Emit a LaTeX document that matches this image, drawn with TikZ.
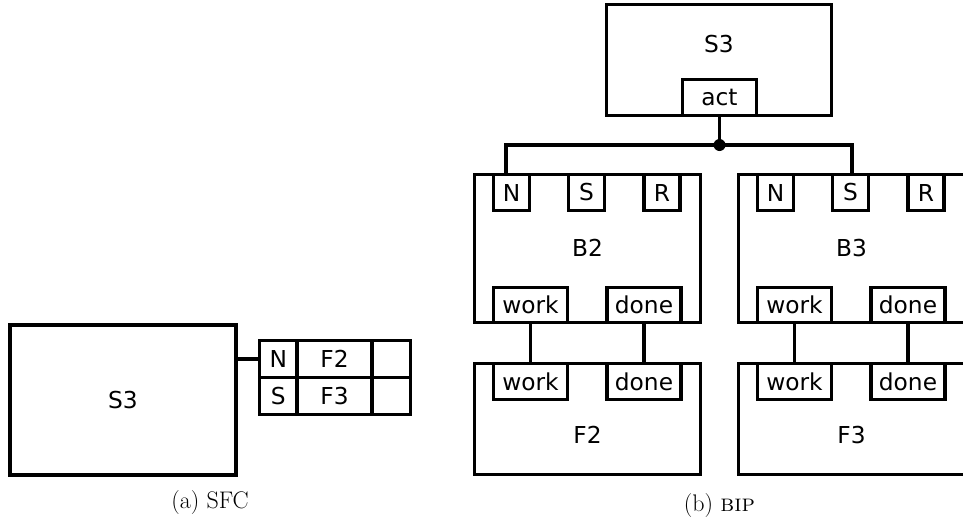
\documentclass[tikz,border=0pt]{standalone}
\usepackage{fontspec}
\newfontfamily\dvs{DejaVu Sans}
\begin{document}
\begin{tikzpicture}[x=1pt,y=-1pt,
  lw/.style={line width=3.5pt},
  box/.style={draw, lw, inner sep=0pt, fill=white, font=\dvs\fontsize{23.3}{27}\selectfont},
  txt/.style={inner sep=0pt, font=\dvs\fontsize{23.3}{27}\selectfont},
  captext/.style={inner sep=0pt, font=\fontsize{24}{28}\selectfont},
  wire/.style={draw, lw}]
\useasboundingbox (0,0) rectangle (963,523);
\clip (0,0) rectangle (963,523);

% ---------- (a) SFC ----------
\node[box, minimum width=226pt, minimum height=150pt] (sfcS3) at (123,400) {S3};
\node[box, minimum width=37.5pt, minimum height=37pt] (aN) at (278.25,359) {N};
\node[box, minimum width=75pt, minimum height=37pt] (aF2) at (334.5,359) {F2};
\node[box, minimum width=38.5pt, minimum height=37pt] (aE1) at (391.25,359) {};
\node[box, minimum width=37.5pt, minimum height=37pt] (aS) at (278.25,396) {S};
\node[box, minimum width=75pt, minimum height=37pt] (aF3) at (334.5,396) {F3};
\node[box, minimum width=38.5pt, minimum height=37pt] (aE2) at (391.25,396) {};
\draw[wire] (sfcS3.east |- aN.west) -- (aN.west);
\node[captext] (capa) at (210,503) {(a) SFC};

% ---------- (b) BIP ----------
\node[box, minimum width=225pt, minimum height=111pt] (S3) at (719,60) {};
\node[txt] (S3t) at (719,44) {S3};
\node[box, minimum width=74pt, minimum height=36pt] (act) at (719.5,97.5) {act};

% B2 and F2
\node[box, minimum width=226pt, minimum height=148pt] (B2) at (587.5,248.5) {};
\node[txt] (B2t) at (587.5,248) {B2};
\node[box, minimum width=36pt, minimum height=36pt] (B2N) at (511.5,192.5) {N};
\node[box, minimum width=36pt, minimum height=36pt] (B2S) at (586.5,192.5) {S};
\node[box, minimum width=36pt, minimum height=36pt] (B2R) at (662,192.5) {R};
\node[box, minimum width=74pt, minimum height=35pt] (B2w) at (530.5,305) {work};
\node[box, minimum width=74pt, minimum height=35pt] (B2d) at (644,305) {done};

\node[box, minimum width=226pt, minimum height=111pt] (F2) at (587.5,419) {};
\node[txt] (F2t) at (587.5,435) {F2};
\node[box, minimum width=74pt, minimum height=36pt] (F2w) at (530.5,381.5) {work};
\node[box, minimum width=74pt, minimum height=36pt] (F2d) at (644,381.5) {done};

% B3 and F3
\node[box, minimum width=226pt, minimum height=148pt] (B3) at (851.5,248.5) {};
\node[txt] (B3t) at (851.5,248) {B3};
\node[box, minimum width=36pt, minimum height=36pt] (B3N) at (775.5,192.5) {N};
\node[box, minimum width=36pt, minimum height=36pt] (B3S) at (850.5,192.5) {S};
\node[box, minimum width=36pt, minimum height=36pt] (B3R) at (926,192.5) {R};
\node[box, minimum width=74pt, minimum height=35pt] (B3w) at (794.5,305) {work};
\node[box, minimum width=74pt, minimum height=35pt] (B3d) at (908,305) {done};

\node[box, minimum width=226pt, minimum height=111pt] (F3) at (851.5,419) {};
\node[txt] (F3t) at (851.5,435) {F3};
\node[box, minimum width=74pt, minimum height=36pt] (F3w) at (794.5,381.5) {work};
\node[box, minimum width=74pt, minimum height=36pt] (F3d) at (908,381.5) {done};

% connectors
\coordinate (j) at (719.5,145);
\coordinate (cl) at (506,145);
\coordinate (cr) at (852,145);
\draw[wire] (act.south) -- (j);
\draw[wire] (cl |- B2.north) -- (cl) -- (cr) -- (cr |- B3.north);
\fill (j) circle (6pt);
\draw[wire] (B2w.south) -- (F2w.north);
\draw[wire] (B2d.south) -- (F2d.north);
\draw[wire] (B3w.south) -- (F3w.north);
\draw[wire] (B3d.south) -- (F3d.north);

\node[captext] (capb) at (719.5,505) {(b) \textsc{bip}};
\end{tikzpicture}
\end{document}
